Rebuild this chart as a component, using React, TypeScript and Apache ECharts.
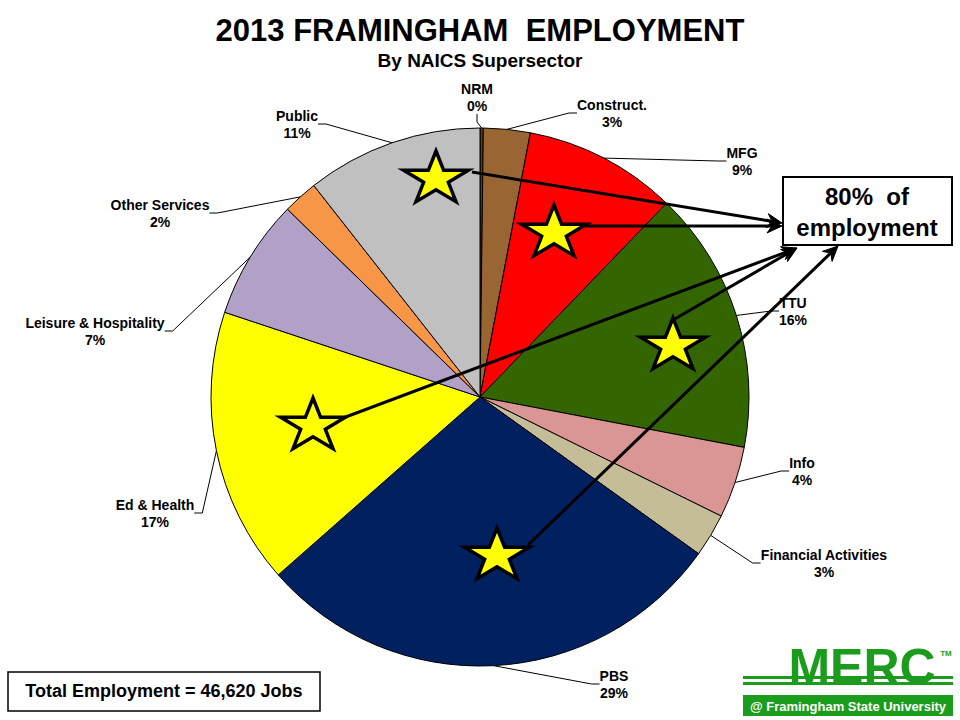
import React, { useEffect, useRef } from 'react';
import * as echarts from 'echarts';

const categories = [
  'NRM', 'Construct.', 'MFG', 'TTU', 'Info', 'Financial Activities',
  'PBS', 'Ed & Health', 'Leisure & Hospitality', 'Other Services', 'Public',
];
const jobs = [93, 1305, 4289, 7366, 2005, 1212, 13333, 7739, 3357, 979, 4942];
const totalJobs = 46620;
const sliceColors = [
  '#5A3A1A', '#996633', '#FF0000', '#336600', '#DA9694', '#C4BD97',
  '#002060', '#FFFF00', '#B2A1C7', '#F79646', '#C0C0C0',
];
// label centre positions (layout only)
const labelPos: [number, number][] = [
  [477, 97], [612, 113], [742, 161], [793, 311], [802, 471], [824, 563],
  [614, 684], [155, 513], [95, 331], [160, 213], [297, 124],
];

const FONT = 'Liberation Sans, Arial, sans-serif';
const GREEN = '#1c9c1c';

function starPoints(cx: number, cy: number, rx: number, ry: number) {
  const pts: number[][] = [];
  for (let k = 0; k < 10; k++) {
    const a = (-90 + k * 36) * Math.PI / 180;
    const r = k % 2 === 0 ? 1 : 0.382;
    pts.push([cx + r * rx * Math.cos(a), cy + r * ry * Math.sin(a)]);
  }
  return pts;
}

function arrow(x1: number, y1: number, x2: number, y2: number) {
  const dx = x2 - x1, dy = y2 - y1;
  const len = Math.sqrt(dx * dx + dy * dy);
  const ux = dx / len, uy = dy / len;
  const bl = 15, hw = 7;
  const bx = x2 - ux * bl, by = y2 - uy * bl;
  return [
    { type: 'line', z: 100, shape: { x1, y1, x2: x2 - ux * 6, y2: y2 - uy * 6 }, style: { stroke: '#000', lineWidth: 3 } },
    {
      type: 'polygon', z: 100,
      shape: { points: [[x2, y2], [bx - uy * hw, by + ux * hw], [x2 - ux * 10, y2 - uy * 10], [bx + uy * hw, by - ux * hw]] },
      style: { fill: '#000', stroke: '#000', lineWidth: 1 },
    },
  ];
}

const stars = [[436, 179], [554, 233], [673, 346], [313, 426], [497, 556]];
const arrows = [
  [472, 172, 782, 223],
  [585, 226, 782, 226],
  [343, 418, 797, 248],
  [673, 320, 797, 248],
  [528, 545, 838, 246],
];

export default function App() {
  const ref = useRef<HTMLDivElement>(null);
  useEffect(() => {
    if (!ref.current) return;
    const chart = echarts.init(ref.current, null, { renderer: 'svg' });
    const graphics: any[] = [];
    arrows.forEach((a) => graphics.push(...arrow(a[0], a[1], a[2], a[3])));
    stars.forEach((s) =>
      graphics.push({
        type: 'polygon', z: 101,
        shape: { points: starPoints(s[0], s[1], 34, 28) },
        style: { fill: '#FFFF00', stroke: '#000', lineWidth: 3.5, lineJoin: 'miter' },
      })
    );
    graphics.push(
      { type: 'rect', z: 102, shape: { x: 783, y: 177, width: 169, height: 68 }, style: { fill: '#fff', stroke: '#000', lineWidth: 2 } },
      { type: 'text', z: 103, style: { x: 867, y: 196, text: '80%  of', font: `bold 24px ${FONT}`, fill: '#000', align: 'center', verticalAlign: 'middle' } },
      { type: 'text', z: 103, style: { x: 867, y: 227, text: 'employment', font: `bold 24px ${FONT}`, fill: '#000', align: 'center', verticalAlign: 'middle' } },
      { type: 'rect', z: 102, shape: { x: 8, y: 672, width: 312, height: 39 }, style: { fill: '#fff', stroke: '#000', lineWidth: 1.5 } },
      { type: 'text', z: 103, style: { x: 164, y: 691, text: 'Total Employment = 46,620 Jobs', font: `bold 18px ${FONT}`, fill: '#000', align: 'center', verticalAlign: 'middle' } },
      // MERC logo
      { type: 'rect', z: 102, shape: { x: 743, y: 676, width: 210, height: 3 }, style: { fill: GREEN } },
      { type: 'rect', z: 102, shape: { x: 743, y: 682, width: 210, height: 3 }, style: { fill: GREEN } },
      { type: 'text', z: 103, style: { x: 862, y: 667, text: 'MERC', font: `bold 50px ${FONT}`, fill: GREEN, align: 'center', verticalAlign: 'middle' } },
      { type: 'text', z: 103, style: { x: 946, y: 653, text: 'TM', font: `bold 8px ${FONT}`, fill: GREEN, align: 'center', verticalAlign: 'middle' } },
      { type: 'rect', z: 102, shape: { x: 743, y: 695, width: 210, height: 21 }, style: { fill: GREEN } },
      { type: 'text', z: 103, style: { x: 848, y: 706, text: '@ Framingham State University', font: `bold 13px ${FONT}`, fill: '#fff', align: 'center', verticalAlign: 'middle' } },
    );

    chart.setOption({
      animation: false,
      backgroundColor: '#fff',
      title: {
        text: '2013 FRAMINGHAM  EMPLOYMENT',
        subtext: 'By NAICS Supersector',
        left: 'center',
        top: 10,
        itemGap: 5,
        textStyle: { fontFamily: FONT, fontSize: 31, fontWeight: 'bold', color: '#000' },
        subtextStyle: { fontFamily: FONT, fontSize: 19, fontWeight: 'bold', color: '#000' },
      },
      graphic: graphics,
      series: [
        {
          type: 'pie',
          center: [480, 397],
          radius: 269,
          startAngle: 90,
          clockwise: true,
          avoidLabelOverlap: false,
          emphasis: { disabled: true },
          itemStyle: { borderColor: '#000', borderWidth: 1 },
          label: {
            show: true,
            position: 'outside',
            color: '#000',
            fontFamily: FONT,
            fontWeight: 'bold',
            fontSize: 14,
            lineHeight: 17,
            formatter: (p: any) => `${p.name}\n${Math.round((p.value / totalJobs) * 100)}%`,
          },
          labelLine: { show: true, length: 10, length2: 8, lineStyle: { color: '#000', width: 1 } },
          labelLayout: (params: any) => {
            const pos = labelPos[params.dataIndex];
            return { x: pos[0], y: pos[1], align: 'center', verticalAlign: 'middle' };
          },
          data: categories.map((name, i) => ({ name, value: jobs[i], itemStyle: { color: sliceColors[i] } })),
        },
      ],
    });
    return () => chart.dispose();
  }, []);
  return <div ref={ref} style={{ position: 'absolute', left: 0, top: 0, width: 960, height: 720 }} />;
}
